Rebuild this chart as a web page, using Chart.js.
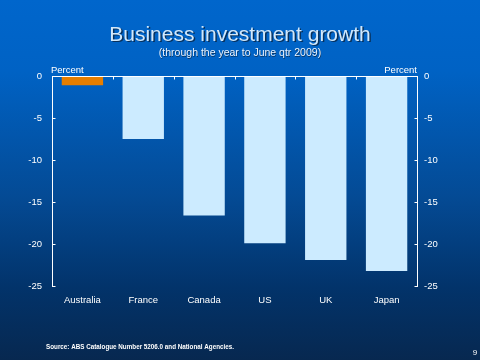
<!DOCTYPE html>
<html>
<head>
<meta charset="utf-8">
<script src="https://cdn.jsdelivr.net/npm/chart.js@4"></script>
<style>
html,body{margin:0;padding:0;background:#0a3a70;}
#wrap{width:480px;height:360px;position:relative;}
canvas{display:block;}
</style>
</head>
<body>
<div id="wrap"><canvas id="c" width="480" height="360"></canvas></div>
<script>
const categories = ['Australia', 'France', 'Canada', 'US', 'UK', 'Japan'];
const growth = [-1.1, -7.5, -16.6, -19.9, -21.9, -23.2];
const barColours = ['#E67E00', '#CCEBFF', '#CCEBFF', '#CCEBFF', '#CCEBFF', '#CCEBFF'];
const yMin = -25, yMax = 0, yStep = 5;
const titleText = 'Business investment growth';
const subtitleText = '(through the year to June qtr 2009)';
const unitText = 'Percent';
const sourceText = 'Source: ABS Catalogue Number 5206.0 and National Agencies.';
const pageNumber = '9';

const decor = {
  id: 'decor',
  beforeDraw(chart) {
    const ctx = chart.ctx;
    const g = ctx.createLinearGradient(0, 0, 0, 360);
    g.addColorStop(0, '#0066CC');
    g.addColorStop(0.2, '#0062C4');
    g.addColorStop(0.55, '#044A94');
    g.addColorStop(0.8, '#02336A');
    g.addColorStop(1, '#072850');
    ctx.save();
    ctx.fillStyle = g;
    ctx.fillRect(0, 0, chart.width, chart.height);
    ctx.restore();
  },
  afterDraw(chart) {
    const ctx = chart.ctx;
    const a = chart.chartArea;
    const y = chart.scales.y;
    const x = chart.scales.x;
    ctx.save();
    ctx.strokeStyle = '#FFFFFF';
    ctx.lineWidth = 1;
    const y0 = Math.round(y.getPixelForValue(0)) + 0.5;
    const L = Math.round(a.left) + 0.5, R = Math.round(a.right) + 0.5;
    ctx.beginPath();
    ctx.moveTo(L, y0); ctx.lineTo(R, y0);
    for (let i = 1; i < categories.length; i++) {
      const px = Math.round((x.getPixelForValue(i - 1) + x.getPixelForValue(i)) / 2) + 0.5;
      ctx.moveTo(px, y0); ctx.lineTo(px, y0 + 3);
    }
    for (let v = yMin; v <= yMax; v += yStep) {
      const py = Math.round(y.getPixelForValue(v)) + 0.5;
      ctx.moveTo(L, py); ctx.lineTo(L + 3, py);
      ctx.moveTo(R, py); ctx.lineTo(R - 3, py);
    }
    ctx.stroke();

    ctx.textAlign = 'center';
    ctx.textBaseline = 'alphabetic';
    ctx.font = '21px "Liberation Sans", Arial, sans-serif';
    ctx.fillStyle = '#08305a';
    ctx.fillText(titleText, 241.5, 42);
    ctx.fillStyle = '#D2E8FA';
    ctx.fillText(titleText, 240, 40.5);
    ctx.font = '10.5px "Liberation Sans", Arial, sans-serif';
    ctx.fillStyle = '#0a3460';
    ctx.fillText(subtitleText, 240.5, 56.5);
    ctx.fillStyle = '#EAF4FF';
    ctx.fillText(subtitleText, 240, 56);

    ctx.font = '9.5px "Liberation Sans", Arial, sans-serif';
    ctx.fillStyle = '#FFFFFF';
    ctx.textBaseline = 'middle';
    ctx.textAlign = 'left';
    ctx.fillText(unitText, a.left - 1, 70);
    ctx.textAlign = 'right';
    ctx.fillText(unitText, a.right, 70);

    ctx.font = 'bold 7px "Liberation Sans", Arial, sans-serif';
    ctx.textAlign = 'left';
    const w = ctx.measureText(sourceText).width;
    ctx.save();
    ctx.translate(46, 347);
    ctx.scale(188 / w, 1);
    ctx.fillText(sourceText, 0, 0);
    ctx.restore();

    ctx.font = '8px "Liberation Sans", Arial, sans-serif';
    ctx.textAlign = 'center';
    ctx.fillText(pageNumber, 475, 353);
    ctx.restore();
  }
};

const tickFont = { size: 9.5, family: '"Liberation Sans", Arial, sans-serif' };

new Chart(document.getElementById('c'), {
  type: 'bar',
  data: {
    labels: categories,
    datasets: [{
      data: growth,
      backgroundColor: barColours,
      borderWidth: 0,
      categoryPercentage: 1.0,
      barPercentage: 0.68,
      yAxisID: 'y'
    }]
  },
  options: {
    responsive: false,
    animation: false,
    devicePixelRatio: 1,
    layout: { padding: { top: 76, left: 0, right: 0, bottom: 0 } },
    plugins: { legend: { display: false }, title: { display: false }, tooltip: { enabled: false } },
    scales: {
      x: {
        position: 'bottom',
        grid: { display: false, drawTicks: false },
        border: { display: false },
        ticks: { color: '#FFFFFF', font: tickFont, padding: 9, maxRotation: 0 },
        afterFit(s) { s.height = 74; }
      },
      y: {
        position: 'left',
        min: yMin, max: yMax,
        grid: { display: false, drawTicks: false },
        border: { display: true, color: '#FFFFFF', width: 1 },
        ticks: { stepSize: yStep, color: '#FFFFFF', font: tickFont, padding: 10 },
        afterFit(s) { s.width = 52; }
      },
      y2: {
        position: 'right',
        min: yMin, max: yMax,
        grid: { display: false, drawTicks: false },
        border: { display: true, color: '#FFFFFF', width: 1 },
        ticks: { stepSize: yStep, color: '#FFFFFF', font: tickFont, padding: 7 },
        afterFit(s) { s.width = 63; }
      }
    }
  },
  plugins: [decor]
});
</script>
</body>
</html>
